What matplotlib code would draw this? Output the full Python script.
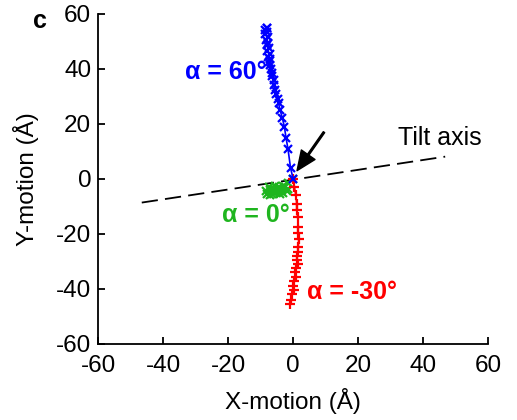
import matplotlib.pyplot as plt
import matplotlib

matplotlib.rc('font', family=['Liberation Sans', 'DejaVu Sans'])
matplotlib.rcParams['axes.unicode_minus'] = False

# trajectories (X, Y in Angstrom)
blue_x = [0, -0.8, -1.6, -2.2, -2.7, -3.3, -4.0, -4.5, -4.7, -5.2, -5.5, -5.8, -6.0, -6.4, -6.6, -6.9,
          -7.1, -7.4, -7.0, -7.8, -7.2, -8.0, -7.5, -8.2, -7.6, -8.4, -7.8, -8.6, -8.0, -8.8, -8.2, -7.9]
blue_y = [0, 4, 11, 15, 19, 22, 25, 27.5, 29, 31, 32.5, 34, 36, 37.5, 38.5, 40,
          41.5, 42.5, 43.5, 44.5, 45.5, 46.5, 47.5, 48.5, 49.5, 50.5, 51.5, 52.5, 53.3, 54, 54.7, 55]

green_x = [0, -1.5, -3, -5, -7, -8.5, -6, -4, -2, -5.5, -7.5, -3.5, -6.5, -2.5, -8, -4.5, -1.5, -6, -3, -7]
green_y = [0, -1.5, -2.5, -3.5, -4, -4.5, -5, -5.5, -4.5, -2.5, -3, -4, -5.5, -3, -5.5, -3, -3.5, -3.5, -5, -6]

red_x = [0, 0.4, 0.8, 1.1, 1.1, 1.4, 1.6, 1.5, 1.7, 1.6, 1.4, 1.3, 1.1, 1.4, 0.9, 0.6, 0.9, 0.3, 0.1,
         0.4, -0.3, -0.7, -0.9]
red_y = [0, -2.8, -6, -9, -11.3, -14, -17.3, -19.5, -22, -24.6, -26.5, -28, -29.5, -31, -32.5, -34,
         -35.5, -37, -39, -40.5, -42, -44, -45.5]

tilt_x = [-46.6, 46.8]
tilt_y = [-8.6, 8.1]

ticks = [-60, -40, -20, 0, 20, 40, 60]

fig = plt.figure(figsize=(5.17, 4.2), dpi=100)
ax = fig.add_axes([0.19, 0.181, 0.754, 0.786])

ax.plot(tilt_x, tilt_y, color='black', lw=1.3, dashes=(9, 4))
ax.plot(green_x, green_y, color='#1fb51f', marker='x', ms=5.5, mew=1.6, lw=1.2)
ax.plot(red_x, red_y, color='red', marker='+', ms=6.5, mew=1.6, lw=1.2)
ax.plot(blue_x, blue_y, color='blue', marker='x', ms=5.5, mew=1.6, lw=1.2)

ax.annotate('', xy=(1.2, 3.0), xytext=(9.5, 17),
            arrowprops=dict(facecolor='black', edgecolor='black', width=1.2, headwidth=12, headlength=14))

ax.text(-8.3, 39, 'α = 60°', color='blue', fontsize=18, fontweight='bold', ha='right', va='center')
ax.text(-1.0, -13, 'α = 0°', color='#1fb51f', fontsize=18, fontweight='bold', ha='right', va='center')
ax.text(4.3, -41, 'α = -30°', color='red', fontsize=18, fontweight='bold', ha='left', va='center')
ax.text(45, 15, 'Tilt axis', color='black', fontsize=18, ha='center', va='center')

ax.set_xlim(-60, 60)
ax.set_ylim(-60, 60)
ax.set_xticks(ticks)
ax.set_yticks(ticks)
ax.tick_params(direction='in', length=5, width=1.3, labelsize=17.5)
ax.tick_params(axis='x', pad=8)
ax.tick_params(axis='y', pad=5)
ax.spines['top'].set_visible(False)
ax.spines['right'].set_visible(False)
ax.spines['left'].set_linewidth(1.3)
ax.spines['bottom'].set_linewidth(1.3)
ax.set_xlabel('X-motion (Å)', fontsize=17.5, labelpad=8)
ax.set_ylabel('Y-motion (Å)', fontsize=17.5, labelpad=12)

fig.text(0.077, 0.95, 'c', fontsize=18, fontweight='bold', ha='center', va='center')

fig.savefig('out.png', dpi=100)
